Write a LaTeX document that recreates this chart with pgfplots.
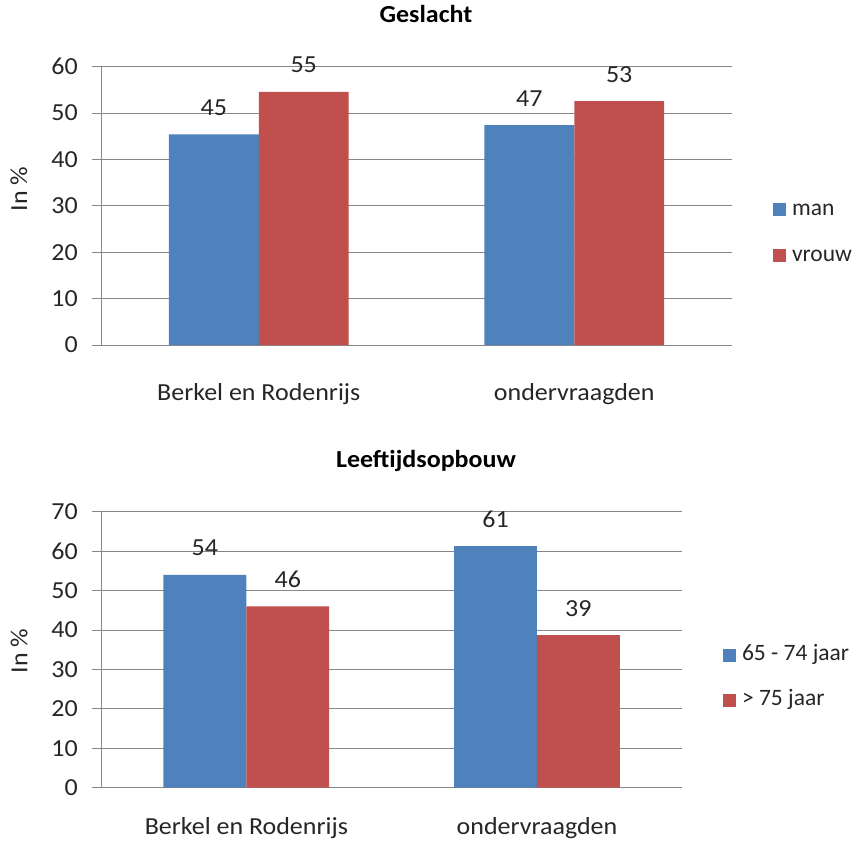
\documentclass[border=0pt]{standalone}
\usepackage{pgfplots}
\pgfplotsset{compat=1.18}
\usepackage{fontspec}
\setmainfont{Carlito}[FakeStretch=1.06]
\newfontfamily\legendfont{Carlito}

\definecolor{xlblue}{HTML}{4F81BD}
\definecolor{xlred}{HTML}{C0504D}
\definecolor{xlgrid}{HTML}{868686}
\definecolor{xltext}{HTML}{262626}

\pgfplotsset{
  xlbar/.style={fill=#1, draw=none,
    legend image code/.code={\fill[fill=#1] (0pt,-1pt) rectangle (13pt,12pt);}},
  xlchart/.style={
    scale only axis,
    ybar=0pt, bar width=0.285,
    xmin=-0.5, xmax=1.5, ymin=0,
    enlargelimits=false,
    axis x line*=bottom, axis y line*=left,
    axis line style={-, xlgrid, line width=0.8pt},
    ymajorgrids, grid style={xlgrid, line width=0.8pt},
    tick align=outside, major tick length=9pt,
    xtick={0,1},
    xticklabels={Berkel en Rodenrijs, ondervraagden},
    x tick style={draw=none},
    extra x ticks={-0.5,0.5,1.5},
    extra x tick labels={},
    extra x tick style={grid=none, tick style={draw=xlgrid, line width=0.8pt}},
    y tick style={draw=xlgrid, line width=0.8pt},
    /pgf/number format/assume math mode=true,
    ticklabel style={text=xltext},
    yticklabel style={anchor=east, inner sep=0pt, xshift=-14pt},
    xticklabel style={anchor=base, inner sep=0pt, yshift=-46pt},
    label style={text=xltext},
    title style={font=\bfseries, text=black, anchor=base, inner sep=0pt},
    point meta=explicit symbolic,
    nodes near coords,
    every node near coord/.append style={inner sep=0pt, anchor=south, yshift=18.5pt, text=xltext},
    legend style={draw=none, fill=none, inner sep=0pt, outer sep=0pt, anchor=west,
      font=\legendfont\fontsize{23.5}{28}\selectfont,
      nodes={inner sep=0pt, text height=12pt, text depth=1pt, anchor=base west, text=xltext},
      column sep=6pt},
    legend cell align=left,
  },
}

\begin{document}
\fontsize{24.5}{29}\selectfont
\begin{tikzpicture}
\path[use as bounding box] (0pt,0pt) rectangle (858pt,-841pt);

% Geslacht
\begin{axis}[xlchart,
  at={(101pt,-345pt)}, anchor=south west,
  width=631pt, height=278.3pt,
  ymax=60, ytick={0,10,...,60},
  title={Geslacht},
  title style={at={(axis description cs:0.515,1)}, yshift=38.4pt},
  ylabel={In \%},
  ylabel style={at={(axis description cs:-0.130,0.56)}, anchor=center},
  legend style={at={(1.065,0.4025)}, row sep=33pt},
]
\addplot[xlbar=xlblue] coordinates {(0,45.4) [45] (1,47.4) [47]};
\addplot[xlbar=xlred] coordinates {(0,54.6) [55] (1,52.6) [53]};
\legend{man, vrouw}
\end{axis}

% Leeftijdsopbouw
\begin{axis}[xlchart,
  at={(101pt,-787.7pt)}, anchor=south west,
  width=581.3pt, height=276pt,
  ymax=70, ytick={0,10,...,70},
  xticklabel style={yshift=8pt},
  title={Leeftijdsopbouw},
  title style={at={(axis description cs:0.559,1)}, yshift=38.7pt},
  ylabel={In \%},
  ylabel style={at={(axis description cs:-0.141,0.495)}, anchor=center},
  legend style={at={(1.070,0.399)}, row sep=32pt},
]
\addplot[xlbar=xlblue] coordinates {(0,54.0) [54] (1,61.3) [61]};
\addplot[xlbar=xlred] coordinates {(0,46.0) [46] (1,38.7) [39]};
\legend{65 - 74 jaar, > 75 jaar}
\end{axis}
\end{tikzpicture}
\end{document}
